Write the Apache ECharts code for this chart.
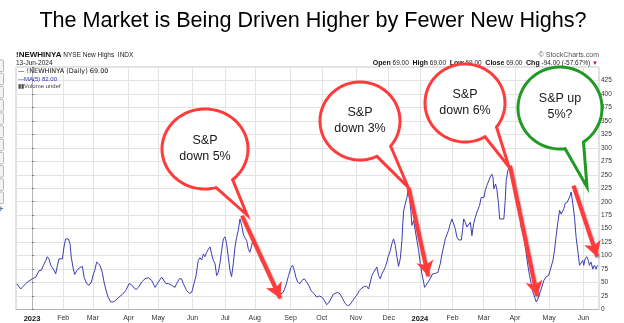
<!DOCTYPE html>
<html><head><meta charset="utf-8">
<script src="https://cdn.jsdelivr.net/npm/echarts@6/dist/echarts.min.js"></script>
<style>html,body{margin:0;padding:0;background:#fff;overflow:hidden}#c{width:624px;height:323px}</style>
</head><body><div id="c"></div>
<script>
// x = trading days since 3-Jan-2023
const days = [-9.8,-7.3,-4.1,-1.9,0.2,2.4,4.5,6,7.3,8.8,9.8,10.9,12,13.7,15.2,16.3,17.3,19.5,20.5,21.6,23.3,24.4,25.2,26.5,27.4,28.7,30.2,32.3,33.4,35.1,36.6,38.1,39.4,40.2,41.5,42.4,43.6,45.1,46.2,47.3,48.8,50.5,52.2,53.7,55.8,58,60.1,62.3,63.8,65.5,
66.8,68.3,70.4,72.5,74.7,76.8,79,81.1,83.2,84.3,86,87.5,89.6,91.8,92.8,94.6,96,97.1,99.3,101,102.5,104,105.3,106.7,107.8,108.9,110,111,112.1,113.2,114.3,115.3,116.4,117.5,118.5,119.6,120.6,121.7,122.8,123.9,124.9,126,127.1,128.1,129.2,130.3,131.3,132.4,133.5,134.6,135.6,136.7,137.8,138.8,139.8,140.8,141.5,142.3,143.3,144.2,145.5,
147,149.1,150.6,151.9,153.5,155,156.5,157.7,159.8,161.3,163,164.7,166.2,167.3,168.4,169.4,170.5,172,173.3,174.8,176.3,177.6,179.1,181.2,182.7,184.4,186.1,187.6,189.1,190.4,191.9,193.4,194.6,196.2,197.7,199.4,201.1,202.6,204.1,205.8,207.5,209,210.1,211.8,213.4,214.9,216.1,
217.2,218.2,219.3,220.4,221.4,222.5,223.6,224.6,225.7,226.8,227.8,228.5,230,231,232.1,233.2,234.3,235.3,236.4,237.5,237.9,238.5,239.6,240.7,241.7,242.4,243.2,243.9,245,246,247.1,248.2,249.3,250.3,251.4,252,252.9,254.1,255.6,257.1,258.9,260.6,262.1,263.2,264.2,265.3,266.4,267.4,268.5,269.6,270.7,271.7,272.8,273.9,275.6,276.4,277.1,278.1,279.2,280.3,281.4,282.4,283.5,284.6,285.7,
287.3,288.4,290.1,291,292,293.1,294.2,295.2,295.9,296.5,297.6,298.4,299.5,300.2,301.2,302.9,303.8,304.4,305.5,306.6,307.6,308.7,310.2,311.5,312.3,313,314,314.7,315.8,317,318.3,319.4,320.5,321.6,322.6,323.7,324.8,325.8,326.9,328.6,330.1,331.6,332.9,334.4,335.4,336.5,337.6,338.7,339.7,340.8,341.4,342.3,343.6,344.4,345.5,346.1,347.2,348.3,349.3,350.4,351.5,352.5,353.6,354.2,355.1,356.1,357.2,357.8,358.9,360,361,362.1,363];
const newHighsMA = [48,38,48,53,57,60,72,73,82,91,98,94,82,75,66,82,94,94,116,131,131,122,97,75,65,72,77,80,60,48,45,51,66,72,88,89,82,69,51,38,23,14,14,17,23,28,35,48,46,40,
37,41,51,57,59,54,41,51,60,57,48,48,45,41,48,57,57,48,35,30,32,48,63,91,96,92,103,98,106,112,116,103,91,85,63,69,85,109,131,135,122,97,72,61,85,116,133,147,168,156,140,133,128,113,106,116,125,129,125,116,106,
91,82,79,66,55,44,36,32,29,32,45,63,78,82,72,60,51,48,54,57,51,45,35,29,23,25,23,17,9,12,20,28,31,32,29,20,11,7,9,16,23,29,35,40,43,43,38,
51,63,69,72,79,63,57,66,72,79,88,97,109,122,131,119,97,80,94,128,153,181,196,208,224,221,184,156,165,147,128,109,85,66,51,41,45,48,57,66,67,69,85,103,116,131,133,147,159,168,165,150,134,129,129,147,168,162,153,150,162,137,159,171,181,
193,208,208,221,230,227,246,251,246,224,233,224,196,168,165,168,202,239,258,264,258,239,218,208,211,196,153,147,134,110,82,63,48,32,23,14,20,29,38,54,61,63,75,91,109,137,162,184,177,174,187,197,199,196,211,218,196,171,134,109,82,85,91,82,94,98,91,82,88,75,82,75,82];

const monthDays = [0,20,39,62,81,103,124,143,166,186,208,229,249,270,290,310,332,354];
const monthLabels = ['2023','Feb','Mar','Apr','May','Jun','Jul','Aug','Sep','Oct','Nov','Dec','2024','Feb','Mar','Apr','May','Jun'];

// arrows (data coords: [tradingDay, value])
const arrowFrom = [[134.8,174],[241.7,226],[306.8,267],[347.6,230]];
const arrowTo   = [[159.3,21],[254.3,62],[324.3,25],[362.8,98]];

const calloutTexts = ['S&P\ndown 5%','S&P\ndown 3%','S&P\ndown 6%','S&P up\n5%?'];

const titleText = 'The Market is Being Driven Higher by Fewer New Highs?';

const chart = echarts.init(document.getElementById('c'), null, {renderer:'canvas'});

const RED = '#ff3b3b', GREEN = '#1f9a23';
const bubbles = [
  {cx:205, cy:149, rx:43, ry:40, a1:50, a2:75, tip:[247,215], color:RED, ty:148.5},
  {cx:360, cy:121, rx:40, ry:39, a1:40, a2:65, tip:[408,187], color:RED, ty:120.5},
  {cx:465, cy:103, rx:40, ry:39, a1:38, a2:60, tip:[509,167], color:RED, ty:103},
  {cx:560, cy:108, rx:42, ry:41, a1:56, a2:83, tip:[587,187], color:GREEN, ty:106.5}
];
function bubblePoints(b){
  const r = Math.PI/180, pts = [];
  const end = b.a2 - 360;
  for (let a = b.a1; a > end; a -= 4) pts.push([b.cx + b.rx*Math.cos(a*r), b.cy + b.ry*Math.sin(a*r)]);
  pts.push([b.cx + b.rx*Math.cos(end*r), b.cy + b.ry*Math.sin(end*r)]);
  pts.push(b.tip);
  return pts;
}

const F = '"Liberation Sans", Arial, sans-serif';
const graphics = [
  {type:'text', x:313, y:21, z:10, style:{text:titleText, font:'21.6px '+F, fill:'#000', textAlign:'center', textVerticalAlign:'middle'}},
  {type:'text', x:16, y:55, z:10, style:{text:'{b|!NEWHINYA} NYSE New Highs  INDX', font:'6.5px '+F, fill:'#222', textVerticalAlign:'middle', rich:{b:{font:'bold 8px '+F, fill:'#111'}}}},
  {type:'text', x:16, y:63.5, z:10, style:{text:'13-Jun-2024', font:'6.5px '+F, fill:'#222', textVerticalAlign:'middle'}},
  {type:'text', x:599, y:55, z:10, style:{text:'© StockCharts.com', font:'7px '+F, fill:'#555', textAlign:'right', textVerticalAlign:'middle'}},
  {type:'text', x:598, y:63.5, z:10, style:{text:'{b|Open} 69.00  {b|High} 69.00  {b|Low} 69.00  {b|Close} 69.00  {b|Chg} -94.00 (-57.67%) {r|▼}', font:'6.5px '+F, fill:'#222', textAlign:'right', textVerticalAlign:'middle', rich:{b:{font:'bold 7px '+F, fill:'#111'}, r:{font:'6px '+F, fill:'#c0143c'}}}},
  {type:'text', x:18, y:71.5, z:10, style:{text:'— !NEWHINYA (Daily) 69.00', font:'6.5px "DejaVu Sans", sans-serif', fill:'#111', textVerticalAlign:'middle'}},
  {type:'text', x:18, y:79, z:10, style:{text:'—MA(5) 82.00', font:'6px '+F, fill:'#2626c8', textVerticalAlign:'middle'}},
  {type:'text', x:18, y:86, z:10, style:{text:'▮▮Volume undef', font:'6px '+F, fill:'#444', textVerticalAlign:'middle'}}
];
for (let k = 0; k < 11; k++) {
  graphics.push({type:'rect', shape:{x:-6, y:60 + k*13.2, width:9.5, height:11.5, r:1}, z:5, style:{fill:'#f3f3f3', stroke:'#b8b8b8', lineWidth:1}});
}
graphics.push({type:'text', x:1, y:210, z:5, style:{text:'+', font:'bold 9px '+F, fill:'#5a7aa0', textAlign:'center', textVerticalAlign:'middle'}});
bubbles.forEach((b,i) => {
  graphics.push({type:'polygon', z:20, shape:{points:bubblePoints(b)}, style:{fill:'#fff', stroke:b.color, lineWidth:3, lineJoin:'miter'}});
  graphics.push({type:'text', x:b.cx, y:b.ty, z:21, style:{text:calloutTexts[i], font:'12.5px '+F, fill:'#1a1a1a', textAlign:'center', textVerticalAlign:'middle', lineHeight:16}});
});

chart.setOption({
  animation:false,
  grid:{left:16, right:25, top:67, bottom:13.5, show:true, borderColor:'#c4c4c4', borderWidth:1, backgroundColor:'#fff'},
  xAxis:{
    type:'value', min:-10.3, max:364,
    axisLine:{show:true, onZero:false, lineStyle:{color:'#b5b5b5'}},
    axisTick:{show:false, customValues:monthDays},
    axisLabel:{customValues:monthDays, fontSize:7, color:'#333', fontFamily:'Liberation Sans', margin:5,
      formatter:v => { const i = monthDays.indexOf(v); const s = i>=0 ? monthLabels[i] : ''; return /^\d{4}$/.test(s) ? '{b|'+s+'}' : s; },
      rich:{b:{fontWeight:'bold', fontSize:7.5, color:'#111', fontFamily:'Liberation Sans'}}},
    splitLine:{show:true, lineStyle:{color:'#e3e3e3', width:1}}
  },
  yAxis:{
    type:'value', position:'right', min:0, max:450, interval:25,
    axisLine:{show:true, lineStyle:{color:'#b5b5b5'}},
    axisTick:{show:true, length:2, lineStyle:{color:'#777'}},
    axisLabel:{fontSize:6.5, color:'#333', fontFamily:'Liberation Sans', margin:2, formatter:v => v===450 ? '' : String(v)},
    splitLine:{show:true, lineStyle:{color:'#e3e3e3', width:1}}
  },
  series:[{
    type:'line', showSymbol:false, smooth:false,
    data: days.map((d,i) => [d, newHighsMA[i]]),
    lineStyle:{color:'#3c3cb4', width:1},
    z:3,
    markLine:{
      silent:true, symbol:['none','arrow'], symbolSize:[13,15],
      label:{show:false},
      lineStyle:{color:RED, width:4, type:'solid', shadowBlur:2, shadowColor:'rgba(0,0,0,0.35)', shadowOffsetX:1, shadowOffsetY:1},
      itemStyle:{color:RED},
      emphasis:{disabled:true},
      data: arrowFrom.map((f,i) => [{coord:f}, {coord:arrowTo[i]}])
    }
  }],
  graphic: graphics
});
</script>
</body></html>
